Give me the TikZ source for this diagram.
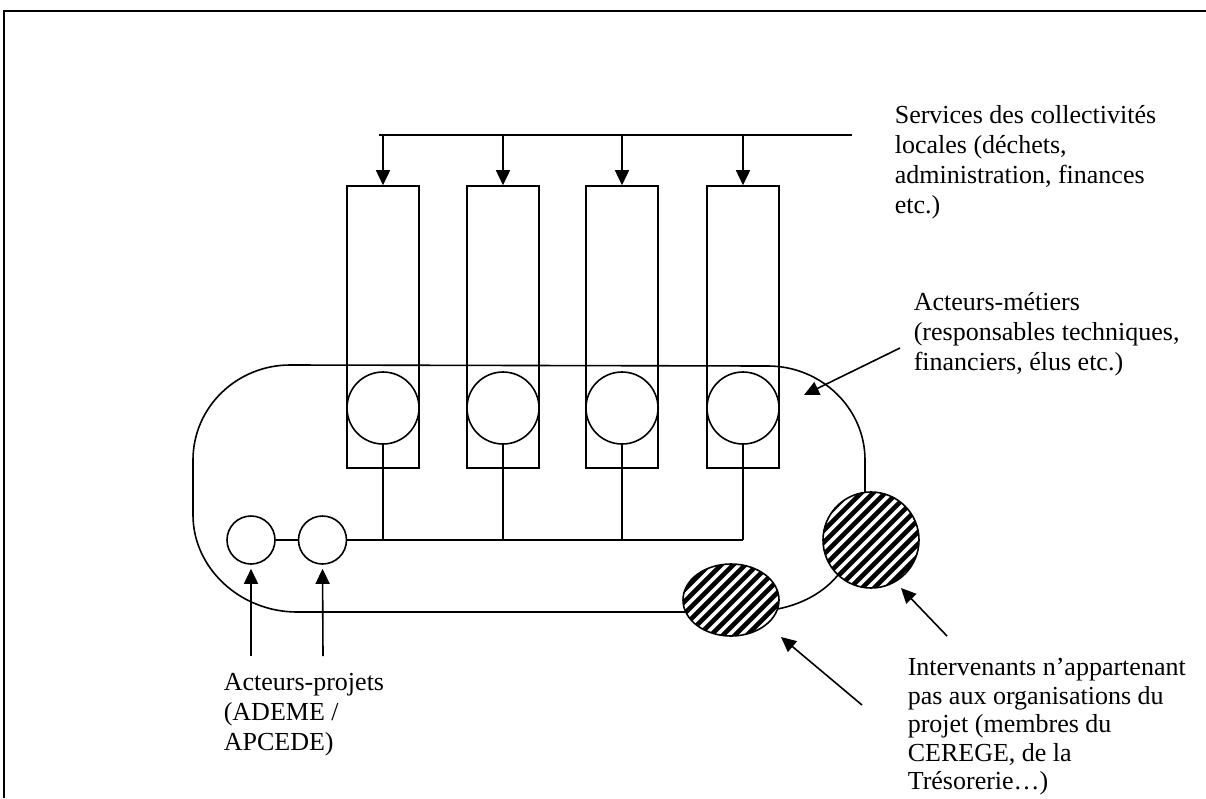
\documentclass[tikz,border=0pt]{standalone}
\usepackage{fontspec}
\setmainfont{Liberation Serif}
\usetikzlibrary{arrows.meta,shapes.geometric}
\begin{document}
\begin{tikzpicture}[x=1pt,y=-1pt,line width=1.6pt,
  box/.style={draw,rectangle,minimum width=72pt,minimum height=282pt,inner sep=0pt},
  bigc/.style={draw,circle,minimum size=72pt,inner sep=0pt,fill=white},
  smallc/.style={draw,circle,minimum size=48pt,inner sep=0pt},
  hatchc/.style={draw,circle,minimum size=96pt,inner sep=0pt},
  hatche/.style={draw,ellipse,minimum width=96pt,minimum height=72pt,inner sep=0pt},
  arr/.style={-{Triangle[length=15pt,width=14pt]}},
  lbl/.style={anchor=north west,inner sep=0pt,align=left,font=\fontsize{26}{30}\selectfont},
  lblb/.style={anchor=north west,inner sep=0pt,align=left,font=\fontsize{26}{28.5}\selectfont},
  stripe/.style={line width=4.6pt}]
\useasboundingbox (0,0) rectangle (1206,798);
% frame
\draw[line width=2.5pt] (4,798) -- (4,11) -- (1206,11);

% hatching
\begin{scope}
  \clip (871,540) circle [radius=48pt];
  \foreach \c in {1330,1342,...,1500}{\draw[stripe] (\c-470,470) -- (\c-620,620);}
\end{scope}
\begin{scope}
  \clip (731,600) ellipse [x radius=48pt,y radius=36pt];
  \foreach \c in {1250,1262,...,1410}{\draw[stripe] (\c-550,550) -- (\c-650,650);}
\end{scope}

% boxes
\node[box] (b1) at (383,327) {};
\node[box] (b2) at (503,327) {};
\node[box] (b3) at (622,327) {};
\node[box] (b4) at (743,327) {};
% circles in boxes
\node[bigc] (c1) at (383,408) {};
\node[bigc] (c2) at (503,408) {};
\node[bigc] (c3) at (622,408) {};
\node[bigc] (c4) at (743,408) {};
% small circles
\node[smallc] (s1) at (251,540) {};
\node[smallc] (s2) at (322.5,540) {};
% hatched
\node[hatchc] (h1) at (871,540) {};
\node[hatche] (h2) at (731,600) {};

% top bus
\coordinate (busL) at (379,135);
\coordinate (busR) at (852,135);
\draw (busL) -- (busR);
\foreach \b in {b1,b2,b3,b4}{\draw[arr] (\b.north |- busL) -- (\b.north);}

% bottom bus
\draw (s1.east) -- (s2.west);
\draw (s2.east) -- (c4.south |- s2.east);
\foreach \cc in {c1,c2,c3,c4}{\draw (\cc.south) -- (\cc.south |- s2.east);}

% rounded outline
\coordinate (o1) at (685.5,612);
\coordinate (o2) at (297,612);
\coordinate (o3) at (193,515);
\coordinate (o4) at (193,460);
\coordinate (o5) at (290,365);
\coordinate (o6) at (768,366);
\coordinate (o7) at (865,460);
\coordinate (o8) at (865,492.4);
\draw (o1) -- (o2) .. controls (240,612) and (193,568) .. (o3) -- (o4)
      .. controls (193,407) and (237,365) .. (o5) -- (o6)
      .. controls (821,366) and (865,408) .. (o7) -- (o8);
\coordinate (e1) at (777.5,609);
\coordinate (e2) at (838,575);
\draw (e1) .. controls (803,604) and (824,592) .. (e2);

% labels
\node[lbl] (t1) at (894,102) {\strut Services des collectivités\\locales (déchets,\\administration, finances\\etc.)};
\node[lbl] (t2) at (913,289) {\strut Acteurs-métiers\\(responsables techniques,\\financiers, élus etc.)};
\node[lbl] (t3) at (223,669) {\strut Acteurs-projets\\(ADEME /\\APCEDE)};
\node[lblb] (t4) at (907,655) {\strut Intervenants n’appartenant\\pas aux organisations du\\projet (membres du\\CEREGE, de la\\Trésorerie…)};

% pointer arrows
\coordinate (p1) at (251,656);
\coordinate (p2) at (323,656);
\draw[arr,shorten >=4pt] (p1) -- (s1.south);
\draw[arr,shorten >=4pt] (p2) -- (s2.south);
\coordinate (m0) at (900,348);
\coordinate (m1) at (804,395);
\draw[arr] (m0) -- (m1);
\coordinate (i0) at (947,636);
\coordinate (i1) at (901,588);
\draw[arr] (i0) -- (i1);
\coordinate (j0) at (862,705);
\coordinate (j1) at (781,637);
\draw[arr] (j0) -- (j1);
\end{tikzpicture}
\end{document}
